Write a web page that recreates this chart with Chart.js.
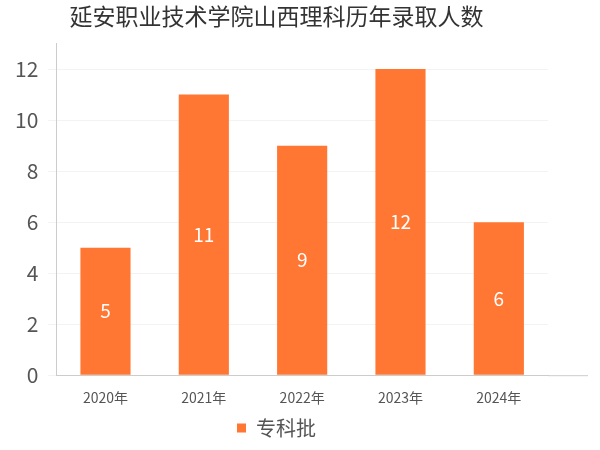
<!DOCTYPE html>
<html><head><meta charset="utf-8">
<script src="https://cdn.jsdelivr.net/npm/chart.js@4"></script>
<style>body{margin:0;background:#fff}#w{width:600px;height:450px}</style>
</head><body><div id="w"><canvas id="c"></canvas></div>
<script>
const categories = ["2020年","2021年","2022年","2023年","2024年"];
const values = [5,11,9,12,6];
const seriesName = "专科批";
const titleText = "延安职业技术学院山西理科历年录取人数";
const F = "'Noto Sans CJK SC','Noto Sans',sans-serif";
const labelPlugin = {
  id:'lbl',
  afterDatasetsDraw(chart){
    const ctx = chart.ctx;
    chart.getDatasetMeta(0).data.forEach((bar,i)=>{
      ctx.save();
      ctx.fillStyle='#fff';
      ctx.font="19px "+F;
      ctx.textAlign='center';ctx.textBaseline='middle';
      ctx.fillText(values[i], bar.x, (bar.y+bar.base)/2);
      ctx.restore();
    });
  }
};
const extendAxis = {
  id:'ext',
  afterDraw(chart){
    const ctx=chart.ctx, a=chart.chartArea;
    ctx.save();ctx.strokeStyle='#ccc';ctx.lineWidth=1;
    ctx.beginPath();ctx.moveTo(a.right,a.bottom+0.5);ctx.lineTo(588,a.bottom+0.5);ctx.stroke();
    ctx.restore();
  }
};
new Chart(document.getElementById('c'),{
  type:'bar',
  data:{labels:categories,datasets:[{label:seriesName,data:values,backgroundColor:'#FF7733',barPercentage:0.51,categoryPercentage:1}]},
  options:{
    responsive:true,maintainAspectRatio:false,animation:false,
    layout:{padding:{left:5,right:52,top:0,bottom:2}},
    plugins:{
      title:{display:true,text:titleText,color:'#333',font:{family:F,size:23,weight:'normal'},padding:{top:2,bottom:14}},
      legend:{position:'bottom',labels:{usePointStyle:true,pointStyle:'rect',boxWidth:9,boxHeight:9,color:'#555',font:{family:F,size:20},padding:6}},
      tooltip:{enabled:false}
    },
    scales:{
      x:{grid:{display:false},border:{color:'#ccc'},ticks:{color:'#555',font:{family:F,size:14},padding:6}},
      y:{min:0,max:13,afterBuildTicks(a){a.ticks=[0,2,4,6,8,10,12].map(v=>({value:v}));},
         grid:{color:'#f3f3f3'},border:{color:'#ccc'},ticks:{color:'#555',font:{family:F,size:21},padding:10}}
    }
  },
  plugins:[labelPlugin,extendAxis]
});
</script></body></html>
